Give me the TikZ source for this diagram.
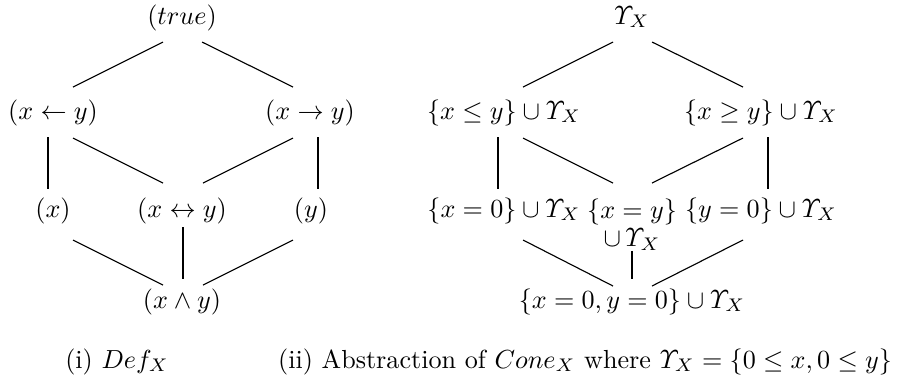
\documentclass[tikz,border=0pt]{standalone}
\usepackage{amsmath}
\begin{document}
\begin{tikzpicture}[x=0.4pt,y=-0.4pt,
  every node/.style={scale=1.045,inner sep=0pt},
  lbl/.style={anchor=base},
  edge/.style={line width=0.45pt},
  rung/.style={line width=0.85pt}]
 \useasboundingbox (0,0) rectangle (900,383);
 % (i) Def_X
 \node[lbl] (t) at (182,24) {$(true)$};
 \node[lbl] (l) at (53,119) {$(x \leftarrow y)$};
 \node[lbl] (r) at (310,119) {$(x \rightarrow y)$};
 \node[lbl] (x) at (53,217) {$(x)$};
 \node[lbl] (m) at (182,217) {$(x \leftrightarrow y)$};
 \node[lbl] (y) at (311,217) {$(y)$};
 \node[lbl] (b) at (182,308) {$(x \wedge y)$};
 \draw[edge] ([shift={(-19,18)}]t.base) -- ([shift={(20,-32)}]l.base);
 \draw[edge] ([shift={(20,18)}]t.base) -- ([shift={(-17,-32)}]r.base);
 \draw[rung] ([shift={(-5,18)}]l.base) -- ([shift={(-5,-28)}]x.base);
 \draw[edge] ([shift={(20,19)}]l.base) -- ([shift={(-19,-34)}]m.base);
 \draw[edge] ([shift={(-17,19)}]r.base) -- ([shift={(21,-34)}]m.base);
 \draw[rung] ([shift={(8,18)}]r.base) -- ([shift={(7,-28)}]y.base);
 \draw[edge] ([shift={(20,23)}]x.base) -- ([shift={(-19,-23)}]b.base);
 \draw[rung] ([shift={(1,10)}]m.base) -- ([shift={(1,-29)}]b.base);
 \draw[edge] ([shift={(-18,23)}]y.base) -- ([shift={(21,-23)}]b.base);
 % (ii) Cone_X, same skeleton shifted right
 \node[lbl] (T) at (632,24) {$\varUpsilon_X$};
 \node[lbl] (L) at (504,119) {$\{x \le y\} \cup \varUpsilon_X$};
 \node[lbl] (R) at (761,119) {$\{x \ge y\} \cup \varUpsilon_X$};
 \node[lbl] (X) at (504,217) {$\{x = 0\} \cup \varUpsilon_X$};
 \node[anchor=north,align=center] (M) at (632,198)
   {$\{x = y\}$\\[-1.2pt]$\cup\,\varUpsilon_X$};
 \node[lbl] (Y) at (761,217) {$\{y = 0\} \cup \varUpsilon_X$};
 \node[lbl] (B) at (632,308) {$\{x = 0, y = 0\} \cup \varUpsilon_X$};
 \draw[edge] ([shift={(-19,18)}]T.base) -- ([shift={(19,-32)}]L.base);
 \draw[edge] ([shift={(20,18)}]T.base) -- ([shift={(-18,-32)}]R.base);
 \draw[rung] ([shift={(-6,18)}]L.base) -- ([shift={(-6,-28)}]X.base);
 \draw[edge] ([shift={(19,19)}]L.base) -- ([shift={(-19,-15)}]M.north);
 \draw[edge] ([shift={(-18,19)}]R.base) -- ([shift={(20,-15)}]M.north);
 \draw[rung] ([shift={(7,18)}]R.base) -- ([shift={(7,-28)}]Y.base);
 \draw[edge] ([shift={(19,23)}]X.base) -- ([shift={(-19,-22)}]B.base);
 \draw[rung] (M.south) -- ([shift={(0,-29)}]B.base);
 \draw[edge] ([shift={(-18,23)}]Y.base) -- ([shift={(20,-22)}]B.base);
 % captions
 \node[lbl] (capi) at (117,368) {(i) $Def_X$};
 \node[lbl] (capii) at (585,368)
   {(ii) Abstraction of $Cone_X$ where $\varUpsilon_X = \{0 \le x, 0 \le y\}$};
\end{tikzpicture}
\end{document}
